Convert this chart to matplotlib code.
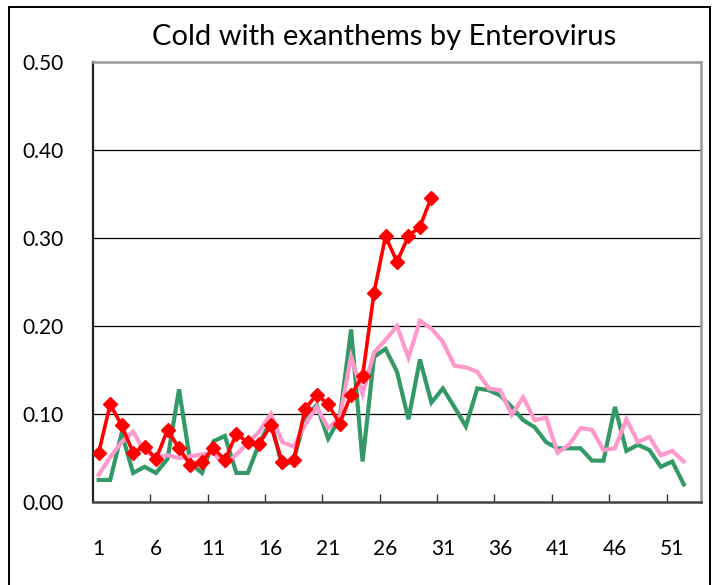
import matplotlib.pyplot as plt
from matplotlib.patches import Rectangle
import numpy as np

plt.rcParams['font.family'] = ['Lato', 'DejaVu Sans']

weeks = np.arange(1, 53)

# previous season (green)
green = [0.025, 0.025, 0.078, 0.033, 0.040, 0.033, 0.049, 0.128, 0.044, 0.033,
         0.069, 0.075, 0.033, 0.033, 0.067, 0.092, 0.040, 0.048, 0.096, 0.110,
         0.072, 0.095, 0.196, 0.046, 0.165, 0.174, 0.148, 0.094, 0.162, 0.113,
         0.129, 0.108, 0.086, 0.129, 0.127, 0.121, 0.108, 0.093, 0.085, 0.068,
         0.061, 0.061, 0.061, 0.047, 0.047, 0.108, 0.058, 0.065, 0.059, 0.040,
         0.046, 0.020]

# average of past years (pink)
pink = [0.031, 0.051, 0.068, 0.080, 0.057, 0.051, 0.053, 0.050, 0.052, 0.054,
        0.056, 0.041, 0.054, 0.067, 0.080, 0.100, 0.068, 0.063, 0.088, 0.108,
        0.084, 0.095, 0.165, 0.123, 0.170, 0.184, 0.200, 0.164, 0.206, 0.197,
        0.182, 0.155, 0.153, 0.148, 0.129, 0.127, 0.099, 0.119, 0.093, 0.096,
        0.056, 0.065, 0.084, 0.082, 0.059, 0.061, 0.094, 0.068, 0.074, 0.053,
        0.058, 0.046]

# current season (red), weeks 1-30
red = [0.056, 0.111, 0.087, 0.056, 0.063, 0.049, 0.082, 0.061, 0.042, 0.046,
       0.061, 0.048, 0.077, 0.068, 0.066, 0.087, 0.045, 0.048, 0.106, 0.122,
       0.111, 0.089, 0.122, 0.143, 0.238, 0.302, 0.273, 0.302, 0.313, 0.346]

xlabels = ['1', '6', '11', '16', '21', '26', '31', '36', '41', '46', '51']

fig = plt.figure(figsize=(7.18, 5.85), dpi=100)
ax = fig.add_axes([0.1295, 0.1419, 0.8468, 0.7521])

ax.plot(weeks, green, color='#339966', lw=3.0, solid_joinstyle='miter', zorder=3)
ax.plot(weeks, pink, color='#FF99CC', lw=3.0, solid_joinstyle='miter', zorder=4)
ax.plot(weeks[:len(red)], red, color='#FF0000', lw=2.6, marker='D', ms=7.5,
        zorder=5)

ax.set_xlim(0.5, 53.5)
ax.set_ylim(0, 0.5)
ax.set_yticks(np.arange(0, 0.51, 0.1))
ax.set_yticklabels(['%.2f' % v for v in np.arange(0, 0.51, 0.1)], fontsize=15)
ax.tick_params(axis='y', length=0, pad=21)

ax.set_xticks(np.arange(5.5, 51, 5))
ax.set_xticklabels([])
ax.set_xticks([int(s) for s in xlabels], minor=True)
ax.set_xticklabels(xlabels, minor=True, fontsize=15)
ax.tick_params(axis='x', which='major', direction='in', length=6, width=1,
               color='#333333')
ax.tick_params(axis='x', which='minor', length=0, pad=27)

for v in [0.1, 0.2, 0.3, 0.4]:
    ax.axhline(v, color='black', lw=0.9, zorder=1)

ax.spines['left'].set_color('#222222')
ax.spines['left'].set_linewidth(1.6)
ax.spines['bottom'].set_color('#444444')
ax.spines['bottom'].set_linewidth(1.8)
ax.spines['top'].set_color('#999999')
ax.spines['top'].set_linewidth(1.8)
ax.spines['right'].set_color('#999999')
ax.spines['right'].set_linewidth(1.8)

fig.text(0.535, 0.937, 'Cold with exanthems by Enterovirus', ha='center',
         va='center', fontsize=21)

# chart area border
fig.patches.append(Rectangle((9 / 718, -0.05), 701 / 718, 1.05 - 7 / 585,
                             transform=fig.transFigure, fill=False,
                             ec='black', lw=1.4))

fig.savefig('out.png', dpi=100)
